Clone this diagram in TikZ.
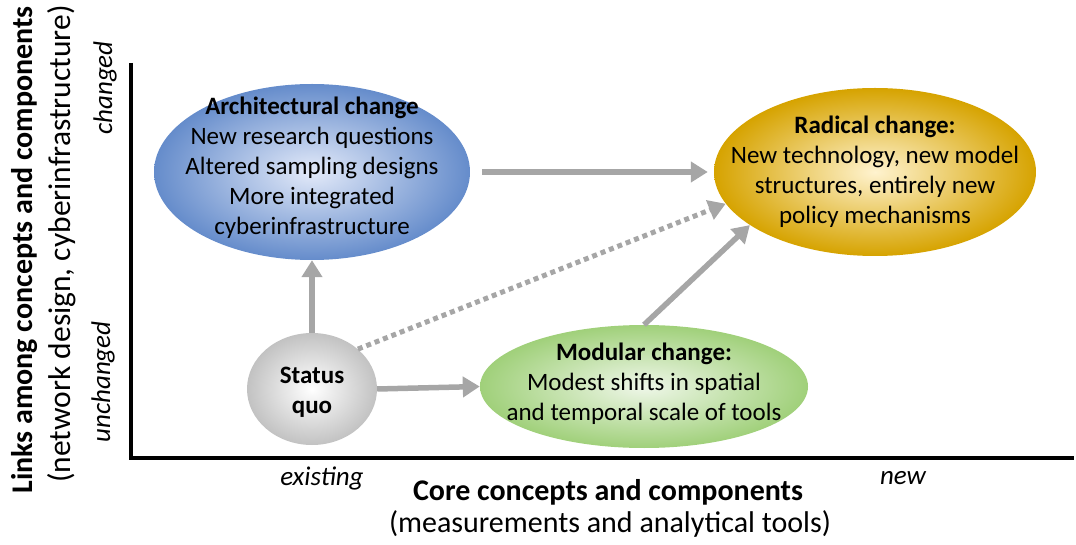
\documentclass[tikz,border=0pt]{standalone}
\usepackage{fontspec}
\setmainfont{Carlito}
\usetikzlibrary{shapes.geometric,arrows.meta}
\definecolor{arrowgray}{HTML}{A6A6A6}
\definecolor{archblue}{HTML}{658CCB}
\definecolor{archlight}{HTML}{E3EAF9}
\definecolor{radgold}{HTML}{D6A300}
\definecolor{radlight}{HTML}{FFF3CF}
\definecolor{modgreen}{HTML}{A0D07A}
\definecolor{modlight}{HTML}{EFF7E9}
\definecolor{quogray}{HTML}{C2C2C2}
\newcommand\bubblefont{\fontsize{25}{30}\selectfont}
\newcommand\axisfont{\fontsize{30}{37}\selectfont}
\newcommand\tickfont{\fontsize{27}{32}\selectfont\itshape}

\begin{document}
\begin{tikzpicture}[x=1pt,y=1pt]
  \tikzstyle{bubble}=[
       ellipse,
       inner sep=0pt,
       draw=none]
  \tikzstyle{bubbletext}=[align=center, font=\bubblefont]
  \tikzstyle{flowarrow}=[
       draw=arrowgray,
       line width=5.5pt,
       -{Triangle[length=17pt,width=20pt]}]
  \tikzstyle{maybearrow}=[flowarrow, line width=5pt, dash pattern=on 5pt off 4pt]
  \useasboundingbox (0,0) rectangle (1076,544);

  % axes
  \coordinate (ytop) at (131,481);
  \coordinate (origin) at (131,86);
  \coordinate (xend) at (1074,86);
  \draw[line width=4pt] (ytop) -- (origin) -- (xend);

  \node[rotate=90, font=\axisfont\bfseries] (ylabel) at (25,294)
      {Links among concepts and components};
  \node[rotate=90, font=\fontsize{31.5}{37}\selectfont] (ysublabel) at (62,300)
      {(network design, cyberinfrastructure)};
  \node[rotate=90, font=\tickfont] (ychanged) at (105,456) {changed};
  \node[rotate=90, font=\tickfont] (yunchanged) at (103,162) {unchanged};
  \node[font=\tickfont] (xexisting) at (322,66) {existing};
  \node[font=\tickfont] (xnew) at (903,66) {new};
  \node[font=\axisfont\bfseries] (xlabel) at (608,52) {Core concepts and components};
  \node[font=\axisfont] (xsublabel) at (610,20) {(measurements and analytical tools)};

  % the four kinds of change
  \node[bubble, minimum width=316pt, minimum height=176pt,
        inner color=archlight, outer color=archblue] (arch) at (312,372) {};
  \node[bubble, minimum width=322pt, minimum height=168pt,
        inner color=radlight, outer color=radgold] (radical) at (875,372) {};
  \node[bubble, minimum width=130pt, minimum height=112pt,
        inner color=white, outer color=quogray] (status) at (312,155) {};
  \node[bubble, minimum width=328pt, minimum height=123pt,
        inner color=modlight, outer color=modgreen] (modular) at (644,157.5) {};

  \node[bubbletext] (archtext) at ([yshift=4pt]arch.center)
      {\textbf{Architectural change}\\New research questions\\Altered sampling designs\\More integrated\\cyberinfrastructure};
  \node[bubbletext] (radicaltext) at (radical.center)
      {\textbf{Radical change:}\\New technology, new model\\structures, entirely new\\policy mechanisms};
  \node[bubbletext] (statustext) at ([yshift=-3pt]status.center)
      {\textbf{Status}\\\textbf{quo}};
  \node[bubbletext] (modulartext) at ([yshift=3pt]modular.center)
      {\textbf{Modular change:}\\Modest shifts in spatial\\and temporal scale of tools};

  \draw[flowarrow] (status.north) -- (arch.south);
  \draw[flowarrow] (status.east) -- (modular.west);
  \draw[flowarrow, shorten <=12pt, shorten >=6pt] (arch.east) -- (radical.west);
  \draw[flowarrow] (modular.north) -- (radical.203);
  \draw[maybearrow] (status.41) -- (radical.192);
\end{tikzpicture}
\end{document}
